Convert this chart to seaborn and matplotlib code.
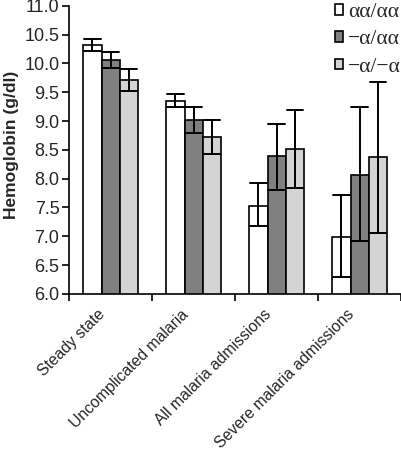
import pandas as pd
import matplotlib.pyplot as plt
import seaborn as sns
from matplotlib.patches import Patch
from matplotlib.ticker import FixedLocator
from matplotlib.transforms import ScaledTranslation

# Data
categories = ['Steady state', 'Uncomplicated malaria', 'All malaria admissions', 'Severe malaria admissions']
genotypes = ['αα/αα', '−α/αα', '−α/−α']
colors = ['#ffffff', '#808080', '#d4d4d4']

hb_mean = {
    'αα/αα': [10.32, 9.35, 7.53, 6.98],
    '−α/αα': [10.06, 9.02, 8.40, 8.07],
    '−α/−α': [9.71, 8.72, 8.51, 8.37],
}
hb_low = {
    'αα/αα': [10.21, 9.24, 7.18, 6.29],
    '−α/αα': [9.92, 8.80, 7.81, 6.91],
    '−α/−α': [9.52, 8.42, 7.84, 7.06],
}
hb_high = {
    'αα/αα': [10.43, 9.47, 7.92, 7.72],
    '−α/αα': [10.20, 9.24, 8.95, 9.24],
    '−α/−α': [9.90, 9.02, 9.20, 9.68],
}

# long table: low / mean / high per cell -> median is the bar, min-max is the error bar
rows = []
for g in genotypes:
    for i, c in enumerate(categories):
        for v in (hb_low[g][i], hb_mean[g][i], hb_high[g][i]):
            rows.append({'state': c, 'genotype': g, 'hb': v})
df = pd.DataFrame(rows)

sns.set_style('ticks')
plt.rcParams['font.family'] = ['Liberation Sans', 'DejaVu Sans']

fig = plt.figure(figsize=(4.02, 4.5), dpi=100)
ax = fig.add_axes([0.172, 0.347, 0.826, 0.640])

sns.barplot(data=df, x='state', y='hb', hue='genotype', order=categories, hue_order=genotypes,
            palette=colors, estimator='median', errorbar=('pi', 100), width=0.66,
            edgecolor='black', linewidth=1.2, capsize=0.6,
            err_kws={'color': 'black', 'linewidth': 1.4}, legend=False, ax=ax)

ax.set_ylim(6.0, 11.0)
ax.set_yticks([6.0 + 0.5 * k for k in range(11)])
ax.set_yticklabels([f'{6.0 + 0.5 * k:.1f}' for k in range(11)], fontsize=13)
ax.set_xlim(-0.5, 3.5)
ax.set_xlabel('')
ax.set_ylabel('Hemoglobin (g/dl)', fontsize=12.5, fontweight='bold', labelpad=4)
ax.yaxis.label.set_y(0.517)

ax.set_xticks(range(len(categories)))
ax.set_xticklabels(categories, rotation=45, ha='right', va='center', rotation_mode='anchor', fontsize=11.3)
ax.tick_params(axis='x', which='major', length=0, pad=16)
shift = ScaledTranslation(-0.08, 0.04, fig.dpi_scale_trans)
for lab in ax.get_xticklabels():
    lab.set_transform(lab.get_transform() + shift)
ax.xaxis.set_minor_locator(FixedLocator([-0.5, 0.5, 1.5, 2.5, 3.5]))
ax.tick_params(axis='x', which='minor', length=5, width=1.2, color='black')
ax.tick_params(axis='y', length=5, width=1.2, color='black', pad=2)

sns.despine(ax=ax)
for s in ['left', 'bottom']:
    ax.spines[s].set_linewidth(1.2)
    ax.spines[s].set_color('black')

handles = [Patch(facecolor=c, edgecolor='black', linewidth=1.2) for c in colors]
fig.legend(handles, genotypes, loc='upper left', bbox_to_anchor=(0.833, 0.993),
           frameon=False, borderpad=0, borderaxespad=0,
           handlelength=0.37, handleheight=0.37, handletextpad=0.25,
           labelspacing=0.38, prop={'family': ['Liberation Serif', 'DejaVu Serif'], 'size': 15.5})

fig.savefig('out.png', dpi=100)
